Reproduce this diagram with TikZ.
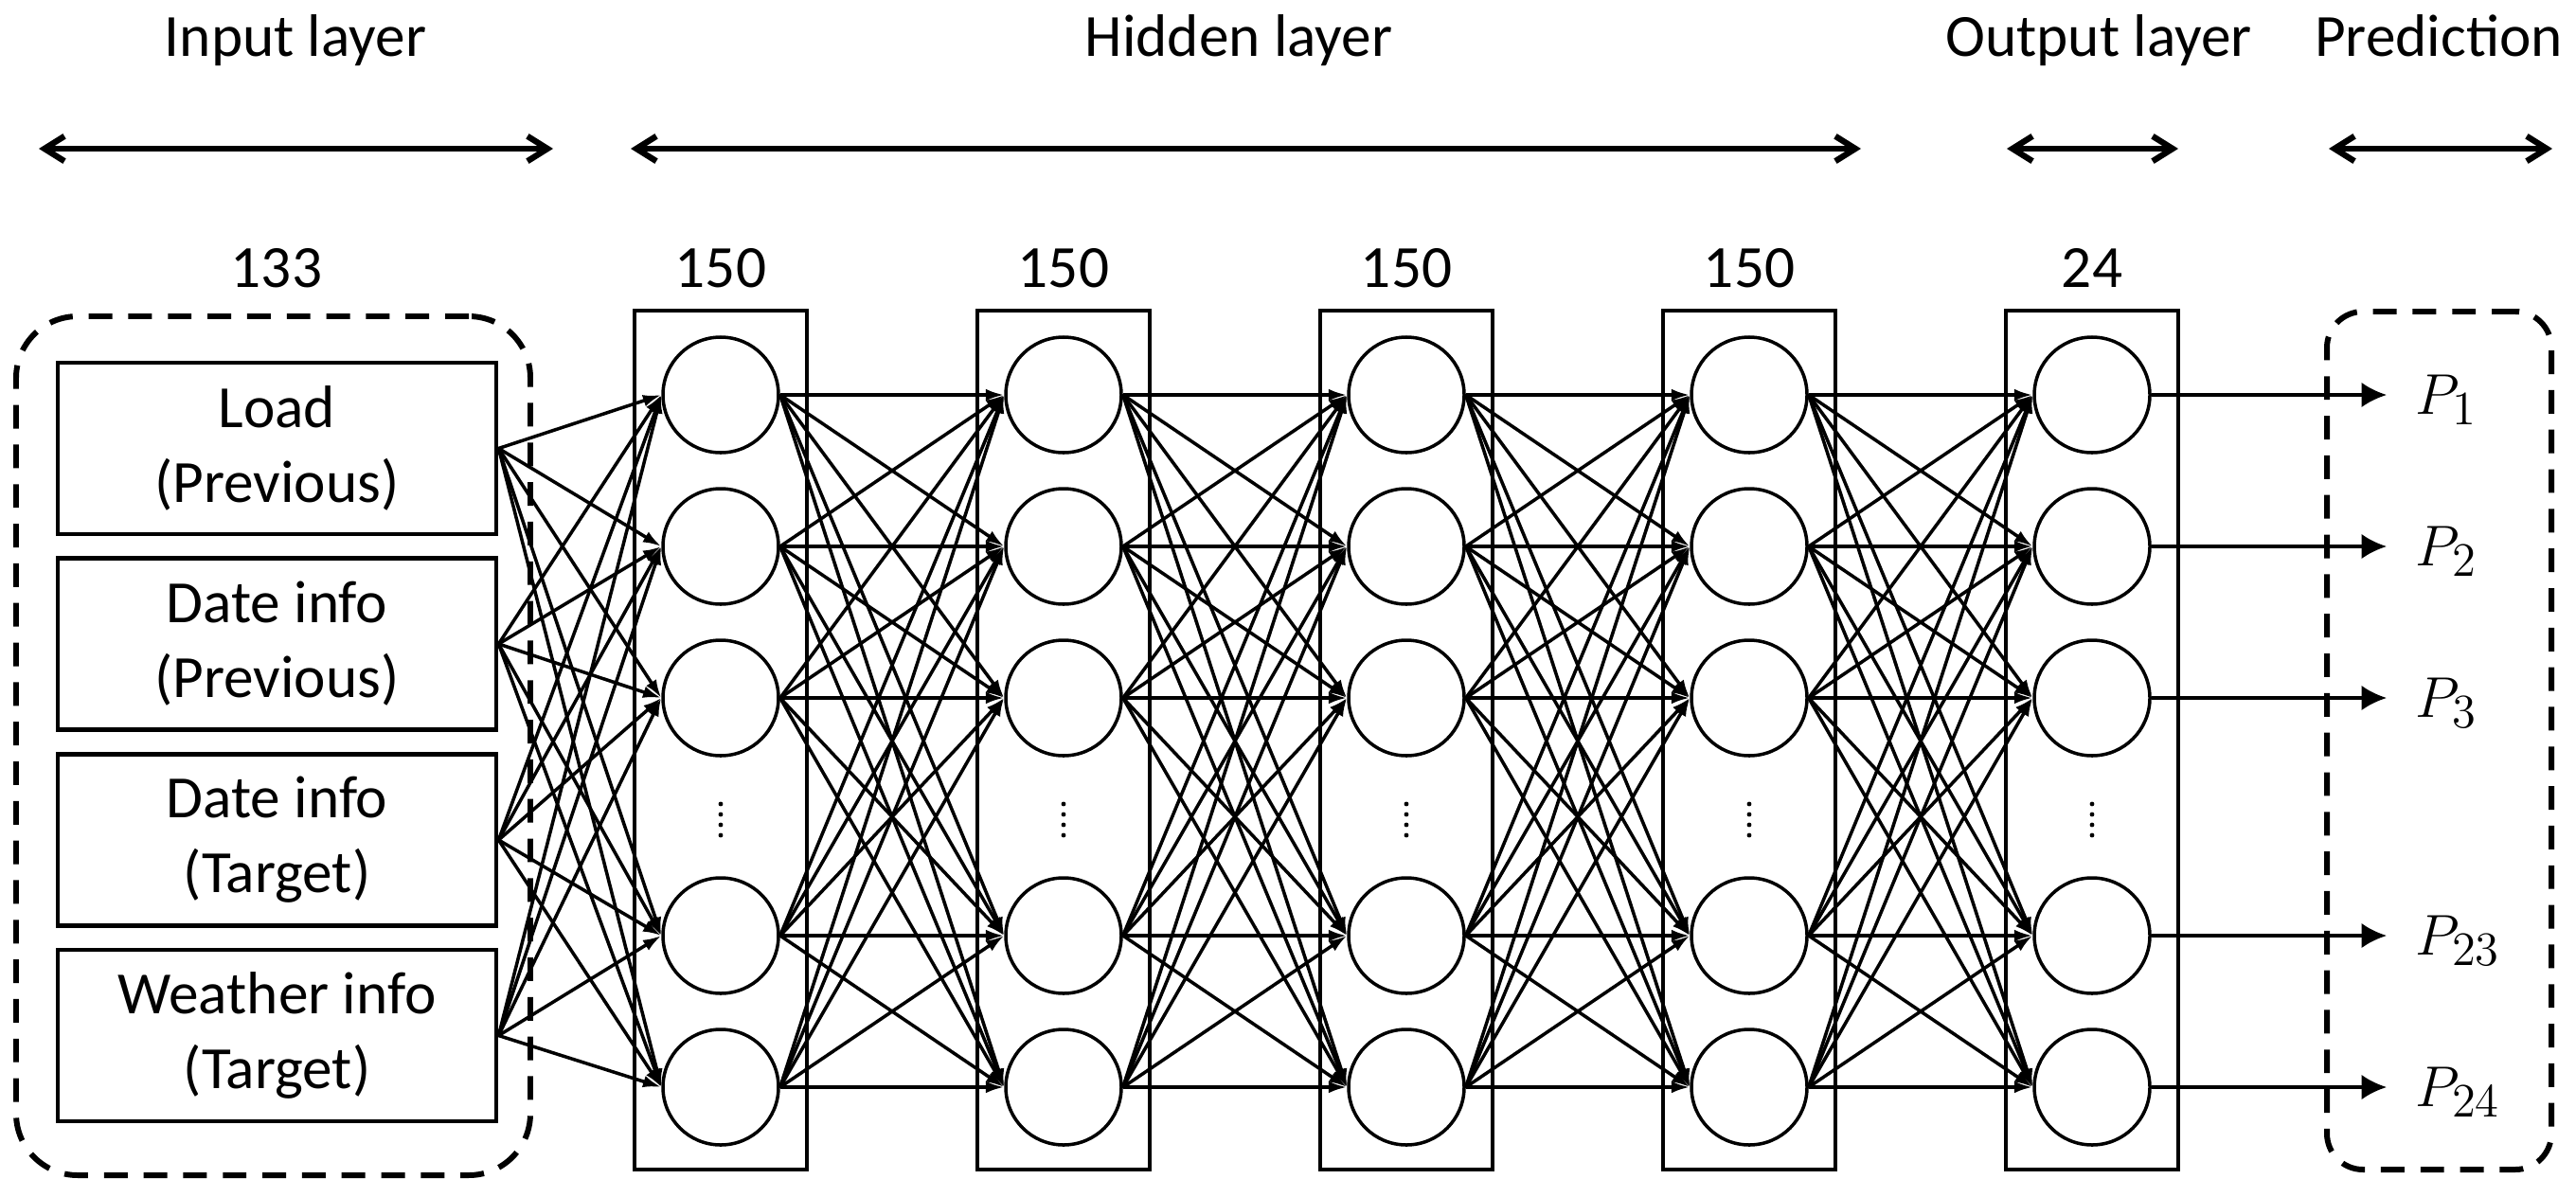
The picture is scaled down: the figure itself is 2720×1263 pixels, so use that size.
\documentclass[tikz,border=0pt]{standalone}
\usepackage{fontspec}
\setmainfont{Carlito}
\usetikzlibrary{arrows.meta}
\begin{document}
\begin{tikzpicture}[x=0.1mm,y=-0.1mm,
  neuron/.style={circle,draw,line width=1pt,minimum size=12.2mm,inner sep=0pt},
  layerbox/.style={draw,line width=1.3pt,minimum width=18.2mm,minimum height=90.7mm,inner sep=0pt},
  inbox/.style={draw,line width=1.4pt,minimum width=46.3mm,minimum height=18.1mm,align=center,
    font=\fontsize{18}{22.5}\selectfont,inner sep=0pt},
  conn/.style={line width=1pt,-{Latex[length=5.5pt,width=3.6pt]}},
  outarrow/.style={line width=1pt,-{Latex[length=7.5pt,width=7.5pt]}},
  header/.style={line width=1.8pt,{Straight Barb[length=6pt,width=7.5pt]}-{Straight Barb[length=6pt,width=7.5pt]}},
  group/.style={draw,dash pattern=on 7.1pt off 4.8pt,line width=1.7pt,inner sep=0pt},
  lbl/.style={anchor=base,font=\fontsize{18}{22}\selectfont,inner sep=0pt}
]
\useasboundingbox[fill=white] (0,0) rectangle (2720,1263);

% group (dashed) boxes
\node[group,rounded corners=6.5mm,minimum width=54.3mm,minimum height=90.7mm] (ingroup) at (288.5,787.5) {};
\node[group,rounded corners=3.8mm,minimum width=23.7mm,minimum height=90.6mm] (predgroup) at (2575.5,782) {};

% headers
\node[lbl] (hin) at (312,60) {Input layer};
\node[lbl] (hhid) at (1308,60) {Hidden layer};
\node[lbl] (hout) at (2216,60) {Output layer};
\node[lbl] (hpred) at (2575,60) {Prediction};
\coordinate (ha1) at (41,157);   \coordinate (hb1) at (584,157);
\coordinate (ha2) at (666,157);  \coordinate (hb2) at (1965,157);
\coordinate (ha3) at (2119,157); \coordinate (hb3) at (2300,157);
\coordinate (ha4) at (2459,157); \coordinate (hb4) at (2695,157);
\foreach \i in {1,...,4} \draw[header] (ha\i) -- (hb\i);

% counts
\node[lbl] (c0) at (292,303) {133};
\foreach \k/\t in {1/150,2/150,3/150,4/150,5/24} {
  \pgfmathsetmacro\lx{761+362*(\k-1)}
  \node[lbl] (c\k) at (\lx,303) {\t};
}

% input boxes
\node[inbox] (in1) at (292.5,473.5) {Load\\(Previous)};
\node[inbox] (in2) at (292.5,680) {Date info\\(Previous)};
\node[inbox] (in3) at (292.5,887) {Date info\\(Target)};
\node[inbox] (in4) at (292.5,1093.5) {Weather info\\(Target)};

% layers
\foreach \k in {1,...,5} {
  \pgfmathsetmacro\lx{761+362*(\k-1)}
  \node[layerbox] (box\k) at (\lx,781.5) {};
  \foreach \r/\y in {1/417,2/577,3/737,4/988,5/1148}
    \node[neuron] (n\k-\r) at (\lx,\y) {};
  \foreach \d in {849,860,871,882}
    \fill (\lx,\d) circle (2.4);
}

% connectors input -> layer 1
\foreach \i in {1,...,4}
  \foreach \r in {1,...,5}
    \draw[conn] (in\i.east) -- (n1-\r.west);

% connectors between layers
\foreach \k [evaluate=\k as \kn using int(\k+1)] in {1,...,4}
  \foreach \r in {1,...,5}
    \foreach \s in {1,...,5}
      \draw[conn] (n\k-\r.east) -- (n\kn-\s.west);

% outputs
\foreach \r/\y/\lab in {1/417/1,2/577/2,3/737/3,4/988/23,5/1148/24} {
  \coordinate (p\r) at (2520,\y);
  \draw[outarrow] (n5-\r.east) -- (p\r);
  \node[anchor=base west,inner sep=0pt,font=\fontsize{19}{22}\selectfont] (lab\r) at (2550,\y+20) {$P_{\lab}$};
}
\end{tikzpicture}
\end{document}
